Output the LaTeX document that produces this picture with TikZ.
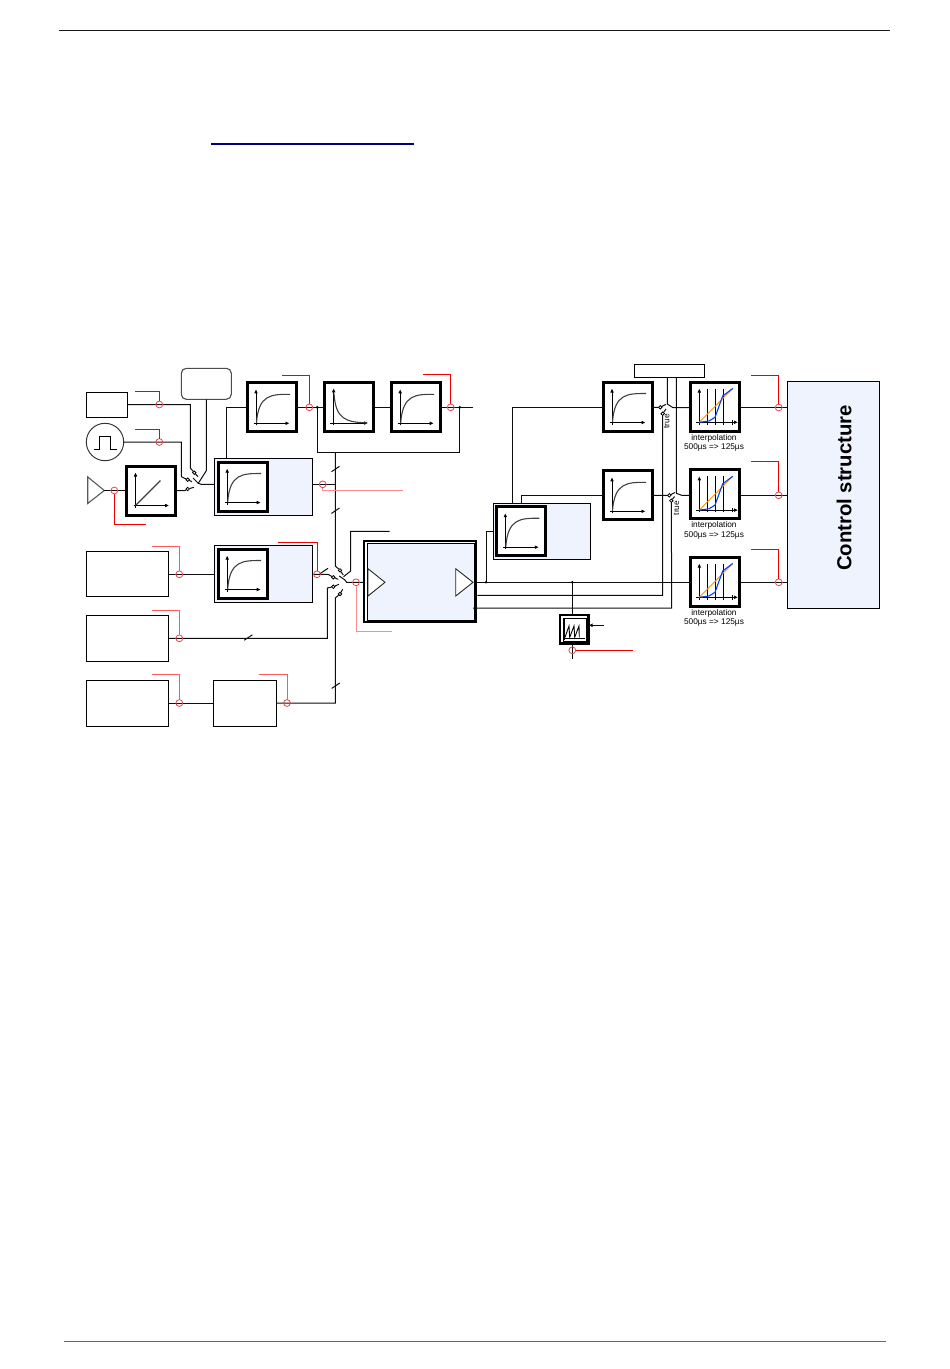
\documentclass[tikz,border=0pt]{standalone}
\usepackage{fontspec}
\setmainfont{Liberation Sans}
\usetikzlibrary{arrows.meta}
\definecolor{blockfill}{HTML}{EEF3FD}
\definecolor{linkblue}{HTML}{000080}
\definecolor{tapred}{HTML}{E8444C}
\tikzset{
 wire/.style={draw=black!95,line width=1pt},
 lead/.style={draw=red!95!black,line width=0.95pt},
 palelead/.style={draw=red!45,line width=0.95pt},
 tap/.style={draw=tapred,circle,line width=0.8pt,minimum size=6.8pt,inner sep=0pt,outer sep=0pt},
 contact/.style={draw=black,fill=white,circle,line width=0.8pt,minimum size=3.4pt,inner sep=0pt,outer sep=0pt},
 plainbox/.style={draw=black,line width=0.95pt,minimum width=#1,inner sep=0pt,outer sep=0pt},
 tfbox/.style={draw=black,fill=white,line width=3pt,minimum width=49pt,minimum height=49pt,inner sep=0pt,outer sep=0pt},
 lightbox/.style={draw=black,fill=blockfill,line width=0.95pt,minimum width=97.5pt,minimum height=56.5pt,inner sep=0pt,outer sep=0pt},
 smalltext/.style={font=\fontsize{8.3}{9.5}\selectfont,inner sep=0pt,align=center},
 axis/.style={draw=black,line width=0.95pt,-{Latex[length=4pt,width=3.8pt]}},
 ptone/.pic={
  \draw[axis] (-15.5,18) -- (-15.5,-18);
  \draw[axis] (-18,16) -- (18,16);
  \draw[black!75,line width=1.1pt] (-15,15.5) .. controls (-13,-13) and (0,-13) .. (18.5,-13);
 },
 decay/.pic={
  \draw[axis] (-15.3,17.7) -- (-15.3,-19);
  \draw[axis] (-19,15.7) -- (19,15.7);
  \draw[black!75,line width=1.1pt] (-15,-14) .. controls (-13.5,12) and (-3,15) .. (18,15.5);
 },
 linear/.pic={
  \draw[axis] (-15,17) -- (-15,-18);
  \draw[axis] (-17,15) -- (18.5,15);
  \draw[black!75,line width=1.1pt] (-15,15) -- (10,-10);
 },
 interp/.pic={
  \draw[axis] (-15.7,18) -- (-15.7,-18);
  \draw[axis] (-19,15.8) -- (23,15.8);
  \foreach \x in {-7.7,0.7,8.7} {
  \draw[black,line width=0.95pt] (\x,-18) -- (\x,18);
  }
  \draw[black,line width=0.95pt] (17.7,13.5) -- (17.7,18);
  \draw[orange!85!yellow,line width=0.9pt] (-15.7,15.8) -- (17.7,-18);
  \draw[blue!75!cyan,line width=1.1pt] (-15.7,15.8) -- (-6,14.5) -- (0,10.8) -- (7.7,-10.5) -- (17.7,-18);
 },
}
\begin{document}
\begin{tikzpicture}[x=1pt,y=-1pt]
\useasboundingbox (0,0) rectangle (950,1369);
% page rules
\coordinate (ruleTa) at (59,30.5); \coordinate (ruleTb) at (890,30.5);
\coordinate (ruleBa) at (64,1341.5); \coordinate (ruleBb) at (886,1341.5);
\coordinate (linka) at (211,144); \coordinate (linkb) at (414,144);
\draw[black!90,line width=1.4pt] (ruleTa) -- (ruleTb);
\draw[black!60,line width=0.9pt] (ruleBa) -- (ruleBb);
\draw[linkblue,line width=1.7pt] (linka) -- (linkb);
% sources
\node[plainbox=41pt,minimum height=25pt] (srcrect) at (106.8,404.5) {};
\node[draw=black!80,circle,line width=0.95pt,minimum size=37.4pt,inner sep=0pt,outer sep=0pt] (srcpulse) at (105,442) {};
\draw[black,line width=0.95pt] (94,449.7) -- (99.3,449.7) -- (99.3,436.3) -- (110.7,436.3) -- (110.7,449.7) -- (116.7,449.7);
\draw[black!65,line width=1.1pt] (87.7,476.9) -- (104.3,490.5) -- (87.7,503.5) -- cycle;
\coordinate (amp) at (104.3,490.5);
\node[tfbox] (linblk) at (150.5,490.5) {}; \pic at (linblk) {linear};
\node[draw=black!70,rounded corners=5pt,line width=1.1pt,minimum width=50pt,minimum height=31pt,inner sep=0pt,outer sep=0pt] (limitbox) at (206.3,383.8) {};
\node[plainbox=82pt,minimum height=45pt] (srcS) at (127.3,574.3) {};
\node[plainbox=82pt,minimum height=46pt] (srcT) at (127.3,638.3) {};
\node[plainbox=82pt,minimum height=46pt] (srcU) at (127.3,703) {};
\node[plainbox=63pt,minimum height=46pt] (procbox) at (244.8,703) {};
% filter blocks
\node[tfbox] (pta) at (271.5,407.3) {}; \pic at (pta) {ptone};
\node[tfbox] (ptb) at (349,407.3) {}; \pic at (ptb) {decay};
\node[tfbox] (ptc) at (415.7,407.3) {}; \pic at (ptc) {ptone};
\node[lightbox] (blkA) at (263.3,486.8) {};
\node[tfbox] (blkAin) at (242.7,486.5) {}; \pic at (blkAin) {ptone};
\node[lightbox] (blkB) at (263.3,573.8) {};
\node[tfbox] (blkBin) at (242.7,573.5) {}; \pic at (blkBin) {ptone};
\node[lightbox] (blkD) at (541.8,531.3) {};
\node[tfbox] (blkDin) at (520.8,531.2) {}; \pic at (blkDin) {ptone};
\node[tfbox] (ptd) at (627.5,406.5) {}; \pic at (ptd) {ptone};
\node[tfbox] (pte) at (627.5,495.3) {}; \pic at (pte) {ptone};
% main block
\node[draw=black,line width=2pt,minimum width=112.6pt,minimum height=81.6pt,inner sep=0pt,outer sep=0pt] (adc) at (420,581.5) {};
\node[draw=black,fill=blockfill,line width=1.4pt,minimum width=106.5pt,minimum height=77.2pt,inner sep=0pt,outer sep=0pt] (adcin) at (421,582.2) {};
\draw[black!85,fill=white,line width=0.9pt] (368,568.7) -- (385,582.3) -- (368,596) -- cycle;
\draw[black!85,fill=white,line width=0.9pt] (455.7,568.7) -- (473,582.3) -- (455.7,596) -- cycle;
% right side
\node[plainbox=70pt,minimum height=13pt] (flagbox) at (669.4,370.8) {};
\node[tfbox] (intA) at (715,406.5) {}; \pic at (intA) {interp};
\node[tfbox] (intB) at (715,494.3) {}; \pic at (intB) {interp};
\node[tfbox] (intC) at (715,581.5) {}; \pic at (intC) {interp};
\node[smalltext] (txtA) at (714,443) {interpolation\\[-0.1pt]500µs => 125µs};
\node[smalltext] (txtB) at (714,530.3) {interpolation\\[-0.1pt]500µs => 125µs};
\node[smalltext] (txtC) at (714,618) {interpolation\\[-0.1pt]500µs => 125µs};
\node[draw=black,fill=blockfill,line width=0.95pt,minimum width=92pt,minimum height=227pt,inner sep=0pt,outer sep=0pt] (ctrl) at (833.3,494.8) {};
\node[rotate=90,font=\bfseries\fontsize{20.3}{24}\selectfont,inner sep=0pt] (ctrltxt) at (844,488) {Control structure};
\node[draw=black,line width=2.2pt,minimum width=28.5pt,minimum height=28.5pt,inner sep=0pt,outer sep=0pt] (rampblk) at (574.3,629.3) {};
\node[draw=black,line width=0.6pt,minimum width=23pt,minimum height=23pt,inner sep=0pt,outer sep=0pt] (rampin) at (574.3,629.3) {};
\draw[black,line width=0.9pt] (564.5,618.5) -- (564.5,640);
\draw[black,line width=0.9pt] (563,638.3) -- (585,638.3);
\draw[black,line width=0.9pt] (565,637.3) -- (569,626) -- (569.7,637.3) -- (574,626) -- (574.7,637.3) -- (579,626) -- (579.3,637.3);
% switch left
\coordinate (pivA) at (198.3,483.3); \coordinate (outA) at (201,484.3);
\node[contact] (conAa) at (194.3,472.7) {};
\node[contact] (conAb) at (187.7,479.7) {};
\node[contact] (conAc) at (187.7,489) {};
\draw[wire] (srcrect.east) -- (190.3,404.5) -- (190.3,468) -- (conAa);
\draw[wire] (srcpulse.east) -- (181.3,442) -- (181.3,476.7) -- (conAb);
\draw[wire] (amp) -- (linblk.west);
\draw[wire] (linblk.east) -- (185,490.5) -- (conAc);
\draw[wire] (limitbox.south) -- (206.3,470.7) -- (pivA) -- (outA) -- (blkA.west |- outA);
\draw[wire] (conAa) -- (198,476.7);
\draw[wire] (conAb) -- (192,481.7);
\draw[wire] (conAc) -- (194,487.3);
\draw[wire] (193,478) -- (pivA);
% top chain
\coordinate (outT) at (473,407.3);
\coordinate (dotL) at (317.3,407.3); \coordinate (dotR) at (459.7,407.3);
\coordinate (fbL) at (317.3,452.3); \coordinate (fbR) at (459.7,452.3);
\coordinate (fbD) at (335.3,452.3);
\draw[wire] (blkA.north -| 226.3,0) -- (226.3,407.3) -- (pta.west);
\draw[wire] (pta.east) -- (ptb.west);
\draw[wire] (ptb.east) -- (ptc.west);
\draw[wire] (ptc.east) -- (outT);
\draw[wire] (dotL) -- (fbL) -- (fbR) -- (dotR);
\fill[black] (dotL) circle (1.5pt) (dotR) circle (1.5pt);
% switch middle
\coordinate (pivB) at (345,580); \coordinate (outB) at (346.7,582.3);
\coordinate (armB) at (350.7,571); \coordinate (armTop) at (350.7,531.3); \coordinate (armEnd) at (389.7,531.3);
\node[contact] (conBa) at (340,570.3) {};
\node[contact] (conBb) at (333.3,577.3) {};
\node[contact] (conBc) at (333.3,586.7) {};
\node[contact] (conBd) at (340,594) {};
\draw[wire] (fbD) -- (335.3,566) -- (conBa);
\draw[wire] (blkA.east |- 0,484.3) -- (335.3,484.3);
\draw[wire] (blkB.east |- 0,574.3) -- (323.3,574.3) -- (328,574.3) -- (conBb);
\draw[wire] (srcS.east) -- (blkB.west |- srcS.east);
\draw[wire] (srcT.east) -- (327.3,638.3) -- (327.3,588) -- (conBc);
\draw[wire] (srcU.east) -- (procbox.west);
\draw[wire] (procbox.east) -- (335.3,703) -- (335.3,598) -- (conBd);
\draw[wire] (armEnd) -- (armTop) -- (armB) -- (343.5,576.7);
\draw[wire] (conBa) -- (343.3,575);
\draw[wire] (conBb) -- (338.3,579.3);
\draw[wire] (conBc) -- (339,584.3);
\draw[wire] (conBd) -- (342.7,589.3);
\draw[wire] (339.3,576) -- (pivB) -- (outB) -- (adc.west |- outB);
% slashes
\foreach \x/\y in {335.5/469,335.5/510.7,248.3/637.5,335.7/685.7,324/571} {
\draw[wire] (\x,\y) ++(-4,2.7) -- ++(8,-5.4);
}
% outputs of the main block
\coordinate (outD) at (486,582.3); \coordinate (outR) at (572.3,582.3);
\coordinate (outDt) at (486,531.5);
\coordinate (outSa) at (477.3,595.3); \coordinate (outSb) at (473,608.2);
\coordinate (rampOut) at (572.3,659); \coordinate (rampArrow) at (604,625.3);
\draw[wire] (adc.east |- outD) -- (outD) -- (outR) -- (intC.west |- outR);
\draw[wire] (outD) -- (outDt) -- (blkD.west |- outDt);
\draw[wire] (outR) -- (rampblk.north -| outR);
\draw[wire] (rampblk.south -| outR) -- (rampOut);
\draw[wire,-{Latex[length=4pt,width=4pt]}] (rampArrow) -- (rampblk.east |- rampArrow);
\fill[black] (outD) circle (1.4pt) (outR) circle (1.4pt);
% right switches
\node[contact] (conCa) at (660.3,407.3) {};
\node[contact] (conCb) at (662.7,413.7) {};
\node[contact] (conDa) at (669.3,495.3) {};
\node[contact] (conDb) at (671.3,500.7) {};
\coordinate (flagA) at (667.3,377.3); \coordinate (flagB) at (676.3,377.3);
\coordinate (tipC) at (667.3,404); \coordinate (tipD) at (676.3,493.3);
\draw[wire] (blkD.north -| 512,0) -- (512,407.3) -- (ptd.west |- 0,407.3);
\draw[wire] (blkD.north -| 521.3,0) -- (521.3,495.3) -- (pte.west);
\draw[wire] (ptd.east |- conCa) -- (conCa) -- (666,404.3);
\draw[wire] (pte.east) -- (conDa) -- (675,492.5);
\draw[wire] (outSa) -- (662.7,595.3) -- (conCb) -- (666,409);
\draw[wire] (outSb) -- (671.7,608.2) -- (conDb) -- (674.5,496.5);
\draw[wire] (flagA) -- (tipC) -- (672.7,407.5) -- (intA.west |- 0,407.5);
\draw[wire] (flagB) -- (tipD) -- (681.7,495.3) -- (intB.west |- 0,495.3);
\node[rotate=90,smalltext] (trueA) at (666.7,421.5) {true};
\node[rotate=90,smalltext] (trueB) at (676.5,508) {true};
\draw[wire] (intA.east |- 0,407.5) -- (ctrl.west |- 0,407.5);
\draw[wire] (intB.east |- 0,495.3) -- (ctrl.west |- 0,495.3);
\draw[wire] (intC.east |- outR) -- (ctrl.west |- outR);
% test points
\node[tap] (tpa) at (159.3,404.5) {}; \coordinate (lda) at (135,391.3);
\node[tap] (tpb) at (159.3,442) {}; \coordinate (ldb) at (135,429.3);
\node[tap] (tpc) at (114.3,490.5) {}; \coordinate (ldc) at (146,524.3);
\node[tap] (tpd) at (309.3,407.3) {}; \coordinate (ldd) at (282,375.3);
\node[tap] (tpe) at (450.7,407.3) {}; \coordinate (lde) at (423.3,374.3);
\node[tap] (tpf) at (322.7,484.3) {}; \coordinate (ldf) at (403.3,490.3);
\node[tap] (tpg) at (317,574.3) {}; \coordinate (ldg) at (278,542.3);
\node[tap] (tph) at (179.3,574.3) {}; \coordinate (ldh) at (152,546);
\node[tap] (tpi) at (179.3,638.3) {}; \coordinate (ldi) at (152,610.3);
\node[tap] (tpj) at (179.3,703) {}; \coordinate (ldj) at (152,674.3);
\node[tap] (tpk) at (287,703) {}; \coordinate (ldk) at (259,674.3);
\node[tap] (tpl) at (356,582.3) {}; \coordinate (ldl) at (391.7,631.3);
\node[tap] (tpm) at (572.3,650.3) {}; \coordinate (ldm) at (632.7,650.3);
\node[tap] (tpn) at (778.7,407.5) {}; \coordinate (ldn) at (751,375);
\node[tap] (tpo) at (778.7,495.3) {}; \coordinate (ldo) at (751,461.3);
\node[tap] (tpp) at (778.7,582.3) {}; \coordinate (ldp) at (751,549.3);
\foreach \a/\b in {tpa/lda,tpb/ldb,tpd/ldd,tpe/lde,tpg/ldg,tpn/ldn,tpo/ldo,tpp/ldp} {
\draw[lead] (\a) |- (\b);
}
\foreach \a/\b in {tph/ldh,tpi/ldi,tpj/ldj,tpk/ldk} {
\draw[draw=red!65,line width=0.95pt] (\a) |- (\b);
}
\draw[lead] (tpc) |- (ldc);
\draw[palelead] (tpf) |- (ldf);
\draw[palelead] (tpl) |- (ldl);
\draw[lead] (tpm) -- (ldm);
\end{tikzpicture}
\end{document}
